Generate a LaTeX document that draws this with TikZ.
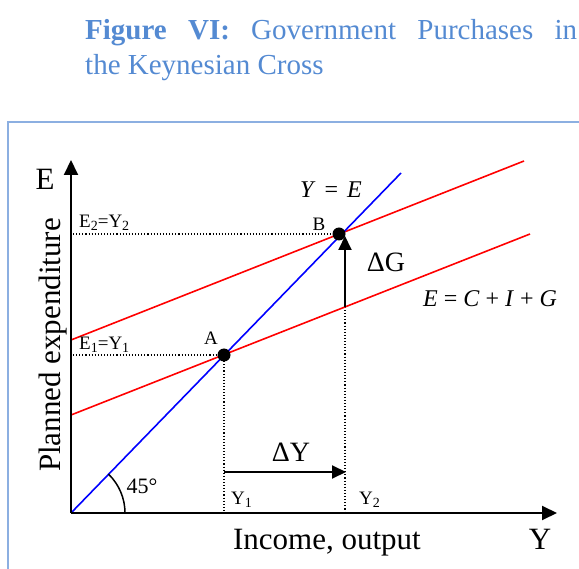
\documentclass[tikz,border=0pt]{standalone}
\usepackage{fontspec}
\setmainfont{Liberation Serif}
\usetikzlibrary{arrows.meta}
\definecolor{titleblue}{RGB}{84,138,210}
\definecolor{framecol}{RGB}{140,175,225}
\newcommand{\lsub}[1]{\raisebox{-2.5pt}{\fontsize{14}{14}\selectfont #1}}
\tikzset{
  axis/.style={line width=2pt,-{Triangle[length=15pt,width=14pt]}},
  eline/.style={red,line width=1.6pt},
  dline/.style={blue,line width=1.6pt},
  guide/.style={line width=1.1pt,dash pattern=on 1.1pt off 2pt},
  eqpt/.style={circle,fill=black,inner sep=0pt,minimum size=13pt},
  shiftarrow/.style={line width=2pt,-{Triangle[length=14pt,width=13pt]}},
  lab/.style={inner sep=0pt,font=\fontsize{19}{19}\selectfont},
  big/.style={inner sep=0pt,font=\fontsize{31}{31}\selectfont},
}
\begin{document}
\begin{tikzpicture}[x=1pt,y=-1pt]
\useasboundingbox (0,0) rectangle (579,569);
% title
\node[anchor=base west,inner sep=0pt,text=titleblue,font=\fontsize{29}{29}\selectfont] (t1) at (85,40)
  {\makebox[492pt][s]{\textbf{Figure VI:} Government Purchases in}};
\node[anchor=base west,inner sep=0pt,text=titleblue,font=\fontsize{29}{29}\selectfont] (t2) at (85,75)
  {the Keynesian Cross};
% frame
\draw[framecol,line width=1.2pt] (8,122) rectangle (600,600);
% coordinates
\coordinate (O) at (71,513);
\coordinate (ytop) at (71,160);
\coordinate (xend) at (557,513);
\coordinate (A) at (224,355);
\coordinate (B) at (339,234);
\coordinate (Ytop) at (401,173);
\coordinate (L0) at (71,415);
\coordinate (L1) at (530,234);
\coordinate (U0) at (71,340);
\coordinate (U1) at (524,161);
\coordinate (Gb) at (345,307);
\coordinate (Gt) at (345,236);
\coordinate (A0) at (224,513);
\coordinate (G0) at (345,513);
\coordinate (Ay) at (73,355);
\coordinate (By) at (73,234);
\coordinate (dy0) at (224,472);
\coordinate (dy1) at (346,472);
% guides
\draw[guide] (Ay) -- (A);
\draw[guide] (By) -- (B);
\draw[guide] (A) -- (A0);
\draw[guide] (Gb) -- (G0);
% lines
\draw[eline] (L0) -- (L1);
\draw[eline] (U0) -- (U1);
\draw[dline] (O) -- (Ytop);
% axes
\draw[axis] (O) -- (ytop);
\draw[axis] (O) -- (xend);
% arc
\draw[line width=1.5pt] (125,513) arc[start angle=0,end angle=-46,radius=54];
% shift arrows
\draw[shiftarrow] (Gb) -- (Gt);
\draw[shiftarrow] (dy0) -- (dy1);
% points
\node[eqpt] (pA) at (A) {};
\node[eqpt] (pB) at (B) {};
% labels
\node[lab] at (211,338) {A};
\node[lab] at (319,224) {B};
\node[lab,anchor=base west] at (79,228) {E\lsub{2}=Y\lsub{2}};
\node[lab,anchor=base west] at (79,350) {E\lsub{1}=Y\lsub{1}};
\node[lab,anchor=base west] at (231,505) {Y\lsub{1}};
\node[lab,anchor=base west] at (359,505) {Y\lsub{2}};
\node[inner sep=0pt,font=\fontsize{22}{22}\selectfont] at (142,486) {45°};
\node[big] at (45,179) {E};
\node[big,rotate=90] at (53,345) {Planned expenditure};
\node[big,anchor=base] at (327,550) {Income, output};
\node[big,anchor=base] at (540,550) {Y};
\node[inner sep=0pt,font=\fontsize{28}{28}\selectfont,anchor=base] at (291,462) {ΔY};
\node[inner sep=0pt,font=\fontsize{28}{28}\selectfont,anchor=base] at (386,272) {ΔG};
\node[inner sep=0pt,font=\fontsize{24}{24}\selectfont,anchor=base] at (331,198) {\textit{Y}\hspace{9pt}=\hspace{9pt}\textit{E}};
\node[inner sep=0pt,font=\fontsize{24}{24}\selectfont,anchor=base] at (490,307) {\textit{E} = \textit{C} + \textit{I} + \textit{G}};
\end{tikzpicture}
\end{document}
